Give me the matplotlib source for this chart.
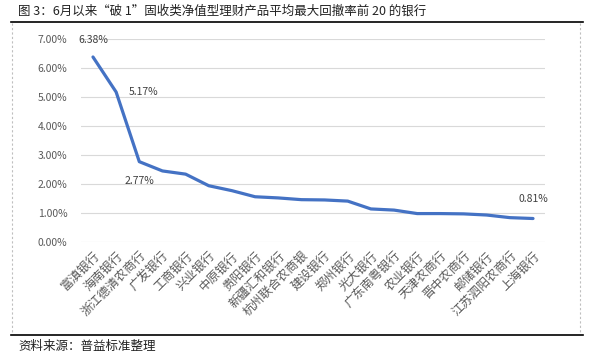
import matplotlib.pyplot as plt
from matplotlib.ticker import PercentFormatter

plt.rcParams['font.family'] = ['Noto Sans CJK SC', 'DejaVu Sans']

# data
banks = ['富滇银行', '海南银行', '浙江德清农商行', '广发银行', '工商银行', '兴业银行',
         '中原银行', '贵阳银行', '新疆汇和银行', '杭州联合农商银', '建设银行', '郑州银行',
         '光大银行', '广东南粤银行', '农业银行', '天津农商行', '晋中农商行', '邮储银行',
         '江苏泗阳农商行', '上海银行']
drawdown = [6.38, 5.17, 2.77, 2.45, 2.34, 1.94, 1.77, 1.56, 1.52, 1.46,
            1.45, 1.41, 1.14, 1.10, 0.98, 0.98, 0.97, 0.93, 0.84, 0.81]
labeled = {0: (0, 12), 1: (20, 0), 2: (0, -14), 19: (0, 14)}

W, H = 595, 356
fig = plt.figure(figsize=(W / 100, H / 100), dpi=100)

# frame / title / source in pixel coordinates
bg = fig.add_axes([0, 0, 1, 1])
bg.set_xlim(0, W)
bg.set_ylim(H, 0)
bg.axis('off')
bg.plot([11, 583], [22, 22], color='black', lw=1.2)
bg.plot([11, 583], [335, 335], color='black', lw=1.2)
bg.plot([12, 12], [23, 334], color='#BFBFBF', lw=0.8, ls=(0, (2, 2)))
bg.plot([580, 580], [23, 334], color='#BFBFBF', lw=0.8, ls=(0, (2, 2)))
bg.text(18, 11, '图 3：6月以来“破 1”固收类净值型理财产品平均最大回撤率前 20 的银行',
        fontsize=9, va='center', ha='left', color='#222222')
bg.text(18, 346, '资料来源：普益标准整理', fontsize=9, va='center', ha='left',
        color='#222222')

ax = fig.add_axes([81.4 / W, (H - 242) / H, (544.6 - 81.4) / W, (242 - 39) / H])
x = list(range(len(banks)))
ax.plot(x, drawdown, color='#4472C4', lw=2.3, solid_capstyle='round')
ax.set_xlim(-0.5, len(banks) - 0.5)
ax.set_ylim(0, 7)
ax.set_yticks(range(0, 8))
ax.yaxis.set_major_formatter(PercentFormatter(decimals=2))
ax.grid(axis='y', color='#D9D9D9', lw=0.8)
ax.set_axisbelow(True)
for s in ax.spines.values():
    s.set_visible(False)
ax.tick_params(length=0, labelsize=7.5, labelcolor='#595959')
ax.tick_params(axis='y', pad=10)
ax.set_xticks(x)
ax.set_xticklabels(banks, rotation=45, ha='right', rotation_mode='anchor',
                   fontsize=8.8)
ax.tick_params(axis='x', pad=5)

for i, (dx, dy) in labeled.items():
    ax.annotate(f'{drawdown[i]:.2f}%', (i, drawdown[i]), xytext=(dx, dy),
                textcoords='offset points', ha='center', va='center',
                fontsize=7.5, color='#404040')

fig.savefig('out.png', dpi=100)
